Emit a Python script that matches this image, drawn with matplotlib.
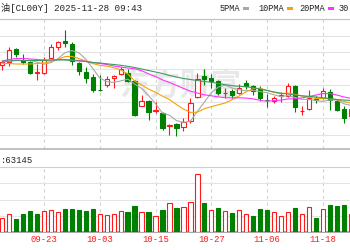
import matplotlib
matplotlib.use('Agg')
import matplotlib.pyplot as plt
from matplotlib.lines import Line2D
from matplotlib.patches import Rectangle
import numpy as np

# ---------------- data ----------------
dates = ["09-15", "09-16", "09-17", "09-18", "09-19", "09-22", "09-23", "09-24", "09-25", "09-26",
         "09-29", "09-30", "10-01", "10-02", "10-03", "10-06", "10-07", "10-08", "10-09", "10-10",
         "10-13", "10-14", "10-15", "10-16", "10-17", "10-20", "10-21", "10-22", "10-23", "10-24",
         "10-27", "10-28", "10-29", "10-30", "10-31", "11-03", "11-04", "11-05", "11-06", "11-07",
         "11-10", "11-11", "11-12", "11-13", "11-14", "11-17", "11-18", "11-19", "11-20", "11-21",
         "11-24"]
opens = [63.50, 63.83, 65.10, 64.05, 63.83, 62.72, 62.75, 64.17, 65.35, 65.90,
         65.60, 63.67, 62.83, 62.30, 61.03, 61.53, 62.17, 62.57, 62.70, 61.90,
         59.42, 59.90, 58.95, 58.67, 57.40, 57.57, 57.33, 57.90, 60.33, 62.45,
         62.20, 61.90, 60.70, 60.95, 60.72, 61.72, 61.42, 61.10, 60.05, 59.87,
         60.40, 60.40, 61.40, 58.88, 59.08, 60.13, 60.17, 60.83, 59.95, 59.13,
         58.45]
highs = [63.95, 65.30, 65.25, 64.60, 63.95, 63.60, 64.35, 65.60, 65.95, 67.00,
         65.80, 63.80, 63.27, 62.65, 62.50, 62.45, 62.50, 63.30, 63.15, 62.05,
         60.50, 60.00, 59.85, 58.83, 57.57, 57.67, 58.17, 60.17, 62.70, 63.10,
         62.60, 62.00, 61.25, 61.10, 61.60, 62.00, 61.50, 61.40, 60.65, 60.40,
         60.85, 61.67, 61.50, 59.45, 61.03, 60.40, 61.20, 61.10, 60.10, 59.40,
         59.30]
lows = [63.05, 63.45, 64.30, 63.65, 62.60, 62.05, 62.60, 64.15, 65.00, 65.30,
        63.55, 62.55, 61.75, 60.83, 60.90, 61.33, 61.20, 62.55, 61.80, 58.45,
        59.38, 58.05, 58.70, 57.05, 56.50, 56.43, 56.90, 57.75, 60.17, 61.50,
        61.25, 60.50, 60.25, 60.23, 60.65, 61.10, 60.50, 59.95, 59.33, 59.70,
        59.80, 60.35, 58.80, 58.50, 59.05, 59.70, 60.15, 59.00, 58.90, 57.67,
        58.20]
closes = [63.77, 65.00, 64.55, 63.80, 62.75, 62.80, 64.00, 65.33, 65.75, 65.70,
          63.90, 62.87, 62.25, 61.02, 60.98, 62.07, 62.42, 63.05, 61.95, 58.53,
          59.90, 58.75, 59.03, 57.23, 57.50, 57.17, 57.85, 59.70, 62.10, 62.10,
          61.90, 60.67, 60.75, 60.55, 61.25, 61.38, 60.87, 60.20, 59.97, 60.17,
          60.50, 61.38, 59.30, 58.94, 60.20, 59.97, 60.90, 59.97, 59.05, 58.25,
          59.15]
volumes = [53200, 66500, 46900, 67900, 76400, 67900, 76400, 80100, 72700, 83800,
           83800, 80100, 76400, 83800, 66500, 62800, 66500, 76400, 72700, 94900,
           72700, 72700, 60500, 80100, 108500, 88600, 92300, 109700, 215600, 107100,
           80100, 90100, 76400, 70100, 80100, 66500, 60500, 83800, 80100, 72700,
           60500, 72700, 90100, 66500, 92300, 50600, 86400, 101200, 97500, 101200,
           67900]
vol_dir = ["u", "u", "d", "d", "d", "d", "u", "u", "u", "d",
           "d", "d", "d", "d", "u", "u", "u", "u", "d", "d",
           "u", "d", "u", "d", "u", "d", "u", "u", "u", "d",
           "u", "d", "u", "d", "u", "u", "d", "d", "d", "u",
           "u", "u", "d", "u", "u", "d", "u", "d", "d", "d",
           "u"]
ma5 = [63.80, 63.90, 64.00, 63.95, 63.97, 63.78, 63.58, 63.74, 64.13, 64.72,
       64.94, 64.71, 64.09, 63.15, 62.20, 61.84, 61.75, 61.91, 62.09, 61.60,
       61.17, 60.44, 59.63, 58.69, 58.48, 57.94, 57.76, 57.89, 58.86, 59.78,
       60.73, 61.29, 61.50, 61.19, 61.02, 60.92, 60.96, 60.85, 60.73, 60.52,
       60.34, 60.44, 60.26, 60.06, 60.06, 59.96, 59.86, 60.00, 60.02, 59.63,
       59.46]
ma10 = [63.65, 63.65, 63.60, 63.60, 63.60, 63.65, 63.70, 63.85, 64.05, 64.34,
        64.36, 64.14, 63.91, 63.64, 63.46, 63.39, 63.23, 63.00, 62.62, 61.90,
        61.50, 61.09, 60.77, 60.39, 60.04, 59.55, 59.10, 58.76, 58.78, 59.13,
        59.33, 59.52, 59.70, 60.03, 60.40, 60.82, 61.13, 61.18, 60.96, 60.77,
        60.63, 60.70, 60.56, 60.40, 60.29, 60.15, 60.15, 60.13, 60.04, 59.85,
        59.71]
ma20 = [63.90, 64.05, 64.15, 64.15, 64.10, 64.05, 64.00, 64.00, 64.05, 64.05,
        64.00, 63.95, 63.85, 63.75, 63.65, 63.55, 63.40, 63.30, 63.20, 63.12,
        62.93, 62.62, 62.34, 62.01, 61.75, 61.47, 61.16, 60.88, 60.70, 60.52,
        60.42, 60.31, 60.23, 60.21, 60.22, 60.19, 60.11, 59.97, 59.87, 59.95,
        59.98, 60.11, 60.13, 60.21, 60.35, 60.49, 60.64, 60.65, 60.50, 60.31,
        60.17]
ma30 = [63.90, 63.90, 63.95, 63.95, 63.95, 63.95, 63.95, 64.00, 64.00, 64.00,
        63.95, 63.90, 63.85, 63.75, 63.70, 63.62, 63.55, 63.47, 63.37, 63.25,
        63.10, 62.95, 62.80, 62.65, 62.45, 62.30, 62.15, 62.05, 61.95, 61.85,
        61.77, 61.65, 61.53, 61.43, 61.37, 61.32, 61.23, 61.10, 60.95, 60.80,
        60.68, 60.60, 60.50, 60.42, 60.37, 60.30, 60.23, 60.14, 60.05, 60.00,
        59.95]
tick_idx = [6, 14, 22, 30, 38, 46]
title_text = "油[CL00Y] 2025-11-28 09:43"
vol_text = ":63145"
ma_labels = ["5PMA", "10PMA", "20PMA", "30"]
watermark = "东方财富"

# ---------------- style ----------------
RED = "#ff1a1a"
GREEN = "#008000"
MA_COLORS = ["#a8a8a8", "#f5a300", "#ff33ff", "#3d9a63"]
MONO = ["Liberation Mono", "Noto Sans CJK SC"]
W, H = 350, 250

fig = plt.figure(figsize=(W / 100, H / 100), dpi=100)
fig.patch.set_facecolor("white")


def fy(py):
    return 1 - py / H


x = np.arange(len(dates))
xlim = (-0.316, 49.9)

ax = fig.add_axes([0, fy(149), 1, (149 - 19) / H])
axv = fig.add_axes([0, fy(232), 1, (232 - 167) / H])

for a in (ax, axv):
    a.set_xlim(*xlim)
    a.set_xticks(tick_idx)
    a.grid(axis="x", color="#d2d2d2", lw=0.8, ls=(0, (3, 3)))
    a.grid(axis="y", color="#e4e4e4", lw=0.8, ls="-")
    a.set_axisbelow(True)
    for s in a.spines.values():
        s.set_visible(False)
    a.tick_params(length=0, labelleft=False)

# price panel
ax.set_ylim(55.1, 68.1)
ax.set_yticks([56.55 + 1.65 * k for k in range(7)])
ax.tick_params(labelbottom=False)
ax.spines["top"].set_visible(True)
ax.spines["top"].set_color("#c4c4c4")
ax.spines["top"].set_linewidth(0.9)

ax.text(0.515, 0.49, watermark, transform=ax.transAxes, ha="center", va="center",
        fontsize=22, color="#e8e8e8", fontweight="bold", family=["Noto Sans CJK SC"],
        style="italic", zorder=0.5)

for i in x:
    o, h, l, c = opens[i], highs[i], lows[i], closes[i]
    up = c >= o
    col = RED if up else GREEN
    ax.vlines(i, l, h, color=col, lw=0.8, zorder=3)
    bh = c - o
    if abs(bh) < 0.04:
        bh = 0.04 if up else -0.04
    ax.bar(i, bh, bottom=o, width=0.62, facecolor="white" if up else GREEN,
           edgecolor=col, linewidth=0.8, zorder=4)

for vals, colr in zip([ma5, ma10, ma20, ma30], MA_COLORS):
    ax.plot(x, vals, color=colr, lw=0.8, zorder=5, solid_capstyle="round")

# volume panel
axv.set_ylim(0, 240000)
axv.set_yticks([60000, 120000, 180000])
axv.spines["bottom"].set_visible(True)
axv.spines["bottom"].set_color("#9a9a9a")
axv.spines["bottom"].set_linewidth(1.2)
axv.spines["top"].set_visible(True)
axv.spines["top"].set_color("#cfcfcf")
axv.spines["top"].set_linewidth(0.8)
axv.set_xticklabels([dates[i] for i in tick_idx], color=RED, fontsize=6.4, family=MONO)
axv.tick_params(axis="x", pad=2.5)

for i in x:
    up = vol_dir[i] == "u"
    axv.bar(i, volumes[i], width=0.62, facecolor="white" if up else GREEN,
            edgecolor=RED if up else GREEN, linewidth=0.8, zorder=3)

# panel separator line
fig.add_artist(Line2D([0, 1], [fy(149), fy(149)], transform=fig.transFigure,
                      color="#bcbcbc", lw=1.3))

# header texts
fig.text(1 / W, fy(8), title_text, ha="left", va="center", fontsize=6.6,
         family=MONO, color="#222222")
fig.text(1 / W, fy(160.5), vol_text, ha="left", va="center", fontsize=6.4,
         family=MONO, color="#222222")

lx = [220, 258, 299, 339]
dx = [243, 287, 328]
for k, (lab, tx) in enumerate(zip(ma_labels, lx)):
    fig.text(tx / W, fy(8.5), lab, ha="left", va="center", fontsize=6.2,
             family=MONO, color="#222222")
    if k < len(dx):
        fig.add_artist(Rectangle((dx[k] / W, fy(9.5)), 6 / W, 2.5 / H,
                                 transform=fig.transFigure,
                                 facecolor=MA_COLORS[k], edgecolor="none"))

fig.savefig("out.png", dpi=100, facecolor="white")
